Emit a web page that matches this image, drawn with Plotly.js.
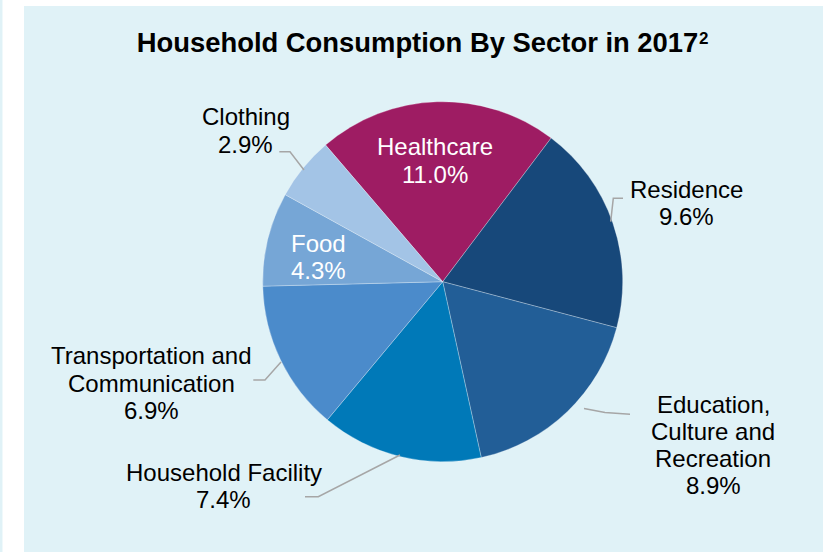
<!DOCTYPE html>
<html>
<head>
<meta charset="utf-8">
<script src="https://cdn.plot.ly/plotly-3.0.1.min.js"></script>
<style>html,body{margin:0;padding:0;background:#fff;}#chart{width:823px;height:552px;}</style>
</head>
<body>
<div id="chart"></div>
<script>
// ---- data ----
var categories = ['Healthcare', 'Residence', 'Education, Culture and Recreation', 'Household Facility', 'Transportation and Communication', 'Food', 'Clothing'];
var labelLines = [['Healthcare'], ['Residence'], ['Education,', 'Culture and', 'Recreation'], ['Household Facility'], ['Transportation and', 'Communication'], ['Food'], ['Clothing']];
var values = [11.0, 9.6, 8.9, 7.4, 6.9, 4.3, 2.9];
var sliceColors = ['#9E1C63', '#17487A', '#225E97', '#0079B8', '#4B8BCB', '#76A6D6', '#A3C4E6'];
var labelColors = ['#FFFFFF', '#000000', '#000000', '#000000', '#000000', '#FFFFFF', '#000000'];
var titleText = 'Household Consumption By Sector in 2017';
var titleNote = '2';

// ---- layout helpers (pixel -> paper, margins are zero) ----
var W = 823, H = 552;
function px(x) { return x / W; }
function py(y) { return 1 - y / H; }

// label anchor: centre x, first baseline y (pixels)
var labelAnchor = [[434.5, 155], [686.5, 197.3], [713, 412.3], [223.5, 480.7], [151.7, 364], [318.3, 251.7], [246, 125]];
var lineGap = 27.3;
var fontSize = 24;
var FONT = 'Liberation Sans, Arial, sans-serif';

var annotations = [];
for (var i = 0; i < categories.length; i++) {
  var lines = labelLines[i].concat([values[i].toFixed(1) + '%']);
  for (var j = 0; j < lines.length; j++) {
    var base = labelAnchor[i][1] + j * lineGap;
    annotations.push({
      xref: 'paper', yref: 'paper',
      x: px(labelAnchor[i][0]), y: py(base - 8.3),
      xanchor: 'center', yanchor: 'middle',
      text: lines[j], showarrow: false,
      font: {family: FONT, size: fontSize, color: labelColors[i]}
    });
  }
}
// superscript note on the title
annotations.push({
  xref: 'paper', yref: 'paper', x: px(697), y: py(39), xanchor: 'left', yanchor: 'middle',
  text: '<b>' + titleNote + '</b>', showarrow: false,
  font: {family: FONT, size: 17, color: '#000000'}
});

// leader lines (pixel paths)
var leaders = [
  [[279.3, 151.7], [290, 151.7], [304, 170]],
  [[623, 198.3], [613.3, 198.3], [610.7, 221.7]],
  [[253.3, 380], [265, 380], [281, 362]],
  [[584, 408.5], [605, 412.5], [630, 414.3]],
  [[305, 496.7], [318.3, 496.7], [400, 455]]
];
function pathOf(pts) {
  return pts.map(function (p, k) { return (k ? 'L' : 'M') + px(p[0]).toFixed(5) + ',' + py(p[1]).toFixed(5); }).join(' ');
}
var shapes = [
  {type: 'rect', xref: 'paper', yref: 'paper', x0: px(2.5), x1: px(24), y0: 0, y1: 1, fillcolor: '#FFFFFF', line: {width: 0}, layer: 'above'},
  {type: 'rect', xref: 'paper', yref: 'paper', x0: px(24), x1: 1, y0: py(6), y1: 1, fillcolor: '#FFFFFF', line: {width: 0}, layer: 'above'}
];
leaders.forEach(function (l) {
  shapes.push({type: 'path', xref: 'paper', yref: 'paper', path: pathOf(l), line: {color: '#A6A6A6', width: 1.5}, layer: 'above'});
});

var cx = 442.7, cy = 281.7, R = 180;

var trace = {
  type: 'pie',
  labels: categories,
  values: values,
  sort: false,
  direction: 'clockwise',
  rotation: -40.6,
  marker: {colors: sliceColors, line: {color: 'rgba(255,255,255,0.35)', width: 0.8}},
  textinfo: 'none',
  hoverinfo: 'skip',
  showlegend: false,
  domain: {x: [px(cx - R - 30), px(cx + R + 30)], y: [py(cy + R), py(cy - R)]}
};

var layout = {
  width: W, height: H,
  margin: {l: 0, r: 0, t: 0, b: 0, pad: 0},
  paper_bgcolor: '#E0F2F7',
  plot_bgcolor: '#E0F2F7',
  showlegend: false,
  title: {
    text: '<b>' + titleText + '</b>',
    font: {family: FONT, size: 27.4, color: '#000000'},
    xref: 'paper', x: px(417.5), xanchor: 'center',
    yref: 'container', y: 1 - 42 / H, yanchor: 'middle'
  },
  annotations: annotations,
  shapes: shapes
};

Plotly.newPlot('chart', [trace], layout, {displayModeBar: false, staticPlot: true});
</script>
</body>
</html>
